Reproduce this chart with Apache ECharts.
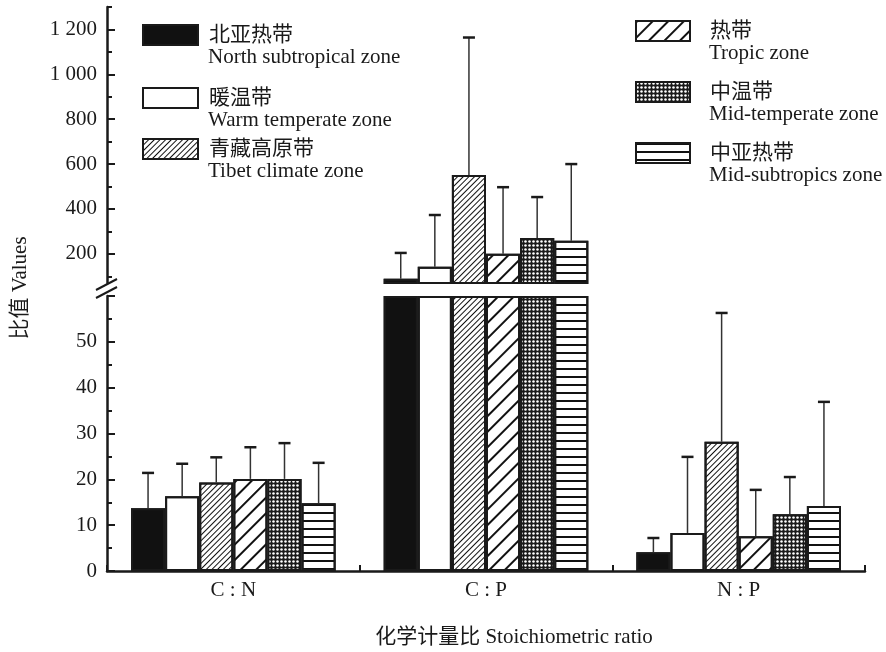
<!DOCTYPE html>
<html style="height: 100%">
<head>
    <meta charset="utf-8">
    <title>化学计量比</title>
    <script src="https://cdn.jsdelivr.net/npm/echarts@6/dist/echarts.min.js"></script>
</head>
<body style="height: 100%; margin: 0; background: #fff">
    <div id="container" style="width: 886px; height: 652px"></div>
    <script type="text/javascript">
        // 分类和图例
        var categories = ['C : N', 'C : P', 'N : P'];
        var zoneCn = ['北亚热带', '暖温带', '青藏高原带', '热带', '中温带', '中亚热带'];
        var zoneEn = ['North subtropical zone', 'Warm temperate zone', 'Tibet climate zone',
            'Tropic zone', 'Mid-temperate zone', 'Mid-subtropics zone'];

        // 均值 (C:N, C:P, N:P)
        var northSub = [13.7, 89, 4.1];
        var warmTemp = [16.3, 142, 8.3];
        var tibet = [19.3, 551, 28.2];
        var tropic = [20.1, 200, 7.6];
        var midTemp = [20.1, 271, 12.4];
        var midSub = [14.8, 258, 14.2];

        // 误差线顶端 (均值 + 标准差)
        var northSubErr = [21.4, 204, 7.2];
        var warmTempErr = [23.4, 373, 24.9];
        var tibetErr = [24.8, 1164, 56.3];
        var tropicErr = [27.0, 497, 17.7];
        var midTempErr = [27.9, 453, 20.5];
        var midSubErr = [23.6, 600, 36.9];

        // 断轴：下段 0-60，上段 70-1300
        var lowerMax = 60;
        var upperMin = 70;
        var upperMax = 1300;
        var upperLabels = [200, 400, 600, 800, 1000, 1200];
        var upperMinorTicks = [100, 300, 500, 700, 900, 1100, 1300];
        var breakCat = 1; // C:P 只在上段显示

        var means = [northSub, warmTemp, tibet, tropic, midTemp, midSub];
        var errs = [northSubErr, warmTempErr, tibetErr, tropicErr, midTempErr, midSubErr];

        var serif = "'Liberation Serif', 'Times New Roman', 'Noto Sans CJK SC', serif";
        var ink = '#1a1a1a';
        var gapPct = 19;

        var styles = [
            { color: '#111', decal: { symbol: 'none' } },
            { color: '#fff', decal: { symbol: 'none' } },
            { color: '#fff', decal: { color: '#111', symbol: 'rect', symbolSize: 1, dashArrayX: [1, 0], dashArrayY: [1, 2.6], rotation: -Math.PI / 4 } },
            { color: '#fff', decal: { color: '#111', symbol: 'rect', symbolSize: 1, dashArrayX: [1, 0], dashArrayY: [1.2, 8.5], rotation: -Math.PI / 4 } },
            { color: '#1a1a1a', decal: { color: '#fff', symbol: 'circle', symbolSize: 0.85, dashArrayX: [2.8, 1], dashArrayY: [2.8, 1], rotation: 0 } },
            { color: '#fff', decal: { color: '#111', symbol: 'rect', symbolSize: 1, dashArrayX: [1, 0], dashArrayY: [1.4, 5.6], rotation: 0 } }
        ];

        function fmt(v) {
            return String(v).replace(/\B(?=(\d{3})+$)/g, ' ');
        }

        var series = [];
        for (var i = 0; i < 6; i++) {
            var itemStyle = {
                color: styles[i].color,
                borderColor: ink,
                borderWidth: 2,
                decal: styles[i].decal
            };
            // 下段
            series.push({
                name: zoneCn[i],
                type: 'bar',
                xAxisIndex: 0,
                yAxisIndex: 0,
                barGap: '0%',
                barCategoryGap: gapPct + '%',
                itemStyle: itemStyle,
                emphasis: { disabled: true },
                data: means[i].map(function (v) { return Math.min(v, lowerMax); })
            });
            // 上段
            series.push({
                name: zoneCn[i],
                type: 'bar',
                xAxisIndex: 1,
                yAxisIndex: 1,
                barGap: '0%',
                barCategoryGap: gapPct + '%',
                itemStyle: itemStyle,
                emphasis: { disabled: true },
                data: means[i].map(function (v, c) { return c === breakCat ? v : '-'; })
            });
        }

        var lowerErr = [], upperErr = [];
        for (var k = 0; k < 6; k++) {
            for (var c = 0; c < categories.length; c++) {
                var item = [c, k, means[k][c], errs[k][c]];
                if (c === breakCat) upperErr.push(item); else lowerErr.push(item);
            }
        }

        function renderErr(params, api) {
            var cat = api.value(0), k = api.value(1);
            var band = api.size([1, 0])[0];
            var bw = band * (1 - gapPct / 100) / 6;
            var cx = api.coord([cat, 0])[0] + (k - 2.5) * bw;
            var y0 = api.coord([cat, api.value(2)])[1];
            var y1 = api.coord([cat, api.value(3)])[1];
            return {
                type: 'group',
                children: [
                    { type: 'line', shape: { x1: cx, y1: y0, x2: cx, y2: y1 }, style: { stroke: '#333', lineWidth: 1.5 } },
                    { type: 'line', shape: { x1: cx - 6, y1: y1, x2: cx + 6, y2: y1 }, style: { stroke: ink, lineWidth: 2.5 } }
                ]
            };
        }

        series.push({
            type: 'custom', xAxisIndex: 0, yAxisIndex: 0, z: 5,
            renderItem: renderErr, data: lowerErr, silent: true
        });
        series.push({
            type: 'custom', xAxisIndex: 1, yAxisIndex: 1, z: 5,
            renderItem: renderErr, data: upperErr, silent: true
        });

        // 图例位置 (图标左上角)
        var legendPos = [
            [142, 24], [142, 87], [142, 138],
            [635, 20], [635, 81], [635, 142]
        ];
        var legends = [];
        var graphics = [];
        for (var j = 0; j < 6; j++) {
            var left = j < 3;
            legends.push({
                left: legendPos[j][0],
                top: legendPos[j][1],
                padding: 0,
                icon: 'rect',
                itemWidth: left ? 55 : 54,
                itemHeight: 20,
                selectedMode: false,
                data: [zoneCn[j]],
                itemStyle: { borderColor: ink, borderWidth: 2 },
                textStyle: {
                    fontFamily: serif, fontSize: 21, color: ink,
                    padding: [0, 0, 0, left ? 6 : 15]
                }
            });
            graphics.push({
                type: 'text',
                left: left ? 208 : 709,
                top: legendPos[j][1] + 23,
                style: { text: zoneEn[j], font: '21px ' + serif, fill: ink }
            });
        }

        graphics.push({
            type: 'text',
            x: 20, y: 288,
            rotation: Math.PI / 2,
            style: { text: '比值 Values', font: '21px ' + serif, fill: ink, align: 'center', verticalAlign: 'middle' }
        });
        graphics.push({
            type: 'text',
            x: 514, y: 637,
            style: { text: '化学计量比 Stoichiometric ratio', font: '21px ' + serif, fill: ink, align: 'center', verticalAlign: 'middle' }
        });
        // 断轴标记
        graphics.push({ type: 'line', shape: { x1: 96, y1: 290, x2: 117, y2: 279 }, style: { stroke: ink, lineWidth: 2 } });
        graphics.push({ type: 'line', shape: { x1: 96, y1: 298, x2: 117, y2: 287 }, style: { stroke: ink, lineWidth: 2 } });

        var lineStyle = { color: ink, width: 2.5 };

        var option = {
            animation: false,
            backgroundColor: '#fff',
            grid: [
                { left: 107, right: 21, top: 296, bottom: 81 },
                { left: 107, right: 21, top: 7, bottom: 652 - 283 }
            ],
            xAxis: [
                {
                    type: 'category', gridIndex: 0, data: categories,
                    axisLine: { lineStyle: lineStyle },
                    axisTick: { show: true, inside: true, length: 6, lineStyle: { color: ink, width: 2 } },
                    axisLabel: { fontFamily: serif, fontSize: 21, color: ink, margin: 9 }
                },
                {
                    type: 'category', gridIndex: 1, data: categories, show: false
                }
            ],
            yAxis: [
                {
                    type: 'value', gridIndex: 0, position: 'left', min: 0, max: lowerMax, interval: 10,
                    axisLine: { show: true, lineStyle: lineStyle },
                    axisTick: { show: true, inside: true, length: 8, lineStyle: { color: ink, width: 2 } },
                    minorTick: { show: true, splitNumber: 2, length: 5, lineStyle: { color: ink, width: 2 } },
                    splitLine: { show: false },
                    axisLabel: { showMaxLabel: false, fontFamily: serif, fontSize: 21, color: ink, margin: 10 }
                },
                {
                    type: 'value', gridIndex: 1, position: 'left', min: upperMin, max: upperMax,
                    axisLine: { show: true, lineStyle: lineStyle },
                    axisTick: { show: true, inside: true, length: 8, customValues: upperLabels, lineStyle: { color: ink, width: 2 } },
                    splitLine: { show: false },
                    axisLabel: { customValues: upperLabels, formatter: fmt, fontFamily: serif, fontSize: 21, color: ink, margin: 10 }
                },
                {
                    type: 'value', gridIndex: 1, position: 'left', offset: 0, min: upperMin, max: upperMax,
                    axisLine: { show: false },
                    axisTick: { show: true, inside: true, length: 5, customValues: upperMinorTicks, lineStyle: { color: ink, width: 2 } },
                    splitLine: { show: false },
                    axisLabel: { show: false }
                }
            ],
            legend: legends,
            graphic: graphics,
            series: series
        };

        var myChart = echarts.init(document.getElementById('container'));
        myChart.setOption(option);
    </script>
</body>
</html>
